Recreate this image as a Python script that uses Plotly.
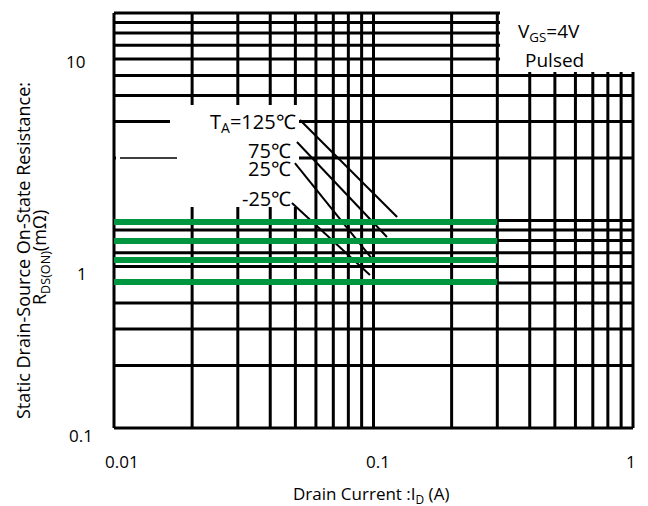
import math
import plotly.graph_objects as go

# ---------------- data ----------------
x_grid = [0.01, 0.02, 0.03, 0.04, 0.05, 0.06, 0.07, 0.08, 0.09,
          0.1, 0.2, 0.3, 0.4, 0.5, 0.6, 0.7, 0.8, 0.9, 1.0]
y_grid = [0.1, 0.2, 0.3, 0.4, 0.5, 0.6, 0.7, 0.8, 0.9,
          1, 2, 3, 4, 5, 6, 7, 8, 9, 10]
x_tick_labels = ["0.01", "0.1", "1"]
y_tick_labels = ["10", "1", "0.1"]

temp_labels = ["T<sub>A</sub>=125℃", "75℃", "25℃", "-25℃"]
rds_on = [0.983, 0.797, 0.645, 0.505]          # mΩ, one level per temperature
id_from = [0.01, 0.01, 0.01, 0.01]              # A
id_to = [0.3, 0.3, 0.3, 0.3]                    # A

# leader lines from the temperature labels to the curves
lead_x0 = [0.0521, 0.0507, 0.0498, 0.0485]
lead_y0 = [3.05, 2.39, 1.89, 1.214]
lead_x1 = [0.1233, 0.1127, 0.0996, 0.0969]
lead_y1 = [1.04, 0.833, 0.645, 0.546]

# ---------------- layout helpers ----------------
W, H = 648, 506
ML, MR, MT, MB = 114, 15, 13, 78
PW, PH = W - ML - MR, H - MT - MB
FONT = "Open Sans"


def px(xp):
    return (xp - ML) / PW


def py(yp):
    return (H - MB - yp) / PH


def lx(v):   # log-x data value -> paper
    return (math.log10(v) + 2) / 2


def ly(v):   # log-y data value -> paper
    return (math.log10(v) + 1) / 2


fig = go.Figure()

# leader lines
for i in range(len(temp_labels)):
    fig.add_trace(go.Scatter(
        x=[lead_x0[i], lead_x1[i]], y=[lead_y0[i], lead_y1[i]],
        mode="lines", line=dict(color="black", width=2),
        hoverinfo="skip", showlegend=False))

# R_DS(ON) curves
for i in range(len(temp_labels)):
    fig.add_trace(go.Scatter(
        x=[id_from[i], id_to[i]], y=[rds_on[i], rds_on[i]],
        mode="lines", line=dict(color="#00963F", width=6),
        name=temp_labels[i], hoverinfo="skip", showlegend=False))

shapes = []
# grid (drawn as shapes so the white boxes can sit on top of it)
for v in x_grid:
    shapes.append(dict(type="line", xref="paper", yref="paper",
                       x0=lx(v), x1=lx(v), y0=0, y1=1,
                       line=dict(color="black", width=3), layer="below"))
for v in y_grid:
    shapes.append(dict(type="line", xref="paper", yref="paper",
                       x0=0, x1=1, y0=ly(v), y1=ly(v),
                       line=dict(color="black", width=3), layer="below"))
shapes += [
    # white area behind the temperature labels
    dict(type="rect", xref="paper", yref="paper",
         x0=px(116), x1=px(299), y0=py(207), y1=py(105),
         fillcolor="white", line=dict(width=0), layer="below"),
    # white box for the condition text
    dict(type="rect", xref="paper", yref="paper",
         x0=px(500), x1=px(636), y0=py(72), y1=py(10),
         fillcolor="white", line=dict(width=0), layer="below"),
    # legend-like stubs at the left
    dict(type="line", xref="paper", yref="paper",
         x0=px(114), x1=px(170), y0=ly(3), y1=ly(3),
         line=dict(color="black", width=3), layer="below"),
    dict(type="line", xref="paper", yref="paper",
         x0=px(120), x1=px(177), y0=ly(2), y1=ly(2),
         line=dict(color="black", width=1.5), layer="below"),
]

annotations = []
# temperature labels
lab_right = [298, 293, 293, 293]
lab_y = [123, 150, 168, 199]
for t, xr, yc in zip(temp_labels, lab_right, lab_y):
    annotations.append(dict(text=t, xref="paper", yref="paper",
                            x=px(xr), y=py(yc), xanchor="right", yanchor="middle",
                            showarrow=False, font=dict(size=20, color="black", family=FONT)))
# condition box text
annotations.append(dict(text="V<sub>GS</sub>=4V", xref="paper", yref="paper",
                        x=px(549), y=py(32), xanchor="center", yanchor="middle",
                        showarrow=False, font=dict(size=19, color="black", family=FONT)))
annotations.append(dict(text="Pulsed", xref="paper", yref="paper",
                        x=px(554), y=py(60), xanchor="center", yanchor="middle",
                        showarrow=False, font=dict(size=19, color="black", family=FONT)))
# x tick labels
for t, xc in zip(x_tick_labels, [122, 378, 631]):
    annotations.append(dict(text=t, xref="paper", yref="paper",
                            x=px(xc), y=py(461), xanchor="center", yanchor="middle",
                            showarrow=False, font=dict(size=17, color="black", family=FONT)))
# y tick labels
for t, xc, yc in zip(y_tick_labels, [75, 82, 81], [61, 273, 436]):
    annotations.append(dict(text=t, xref="paper", yref="paper",
                            x=px(xc), y=py(yc), xanchor="center", yanchor="middle",
                            showarrow=False, font=dict(size=17, color="black", family=FONT)))
# axis titles
annotations.append(dict(text="Drain Current :I<sub>D</sub> (A)", xref="paper", yref="paper",
                        x=px(371), y=py(495), xanchor="center", yanchor="middle",
                        showarrow=False, font=dict(size=17, color="black", family=FONT)))
annotations.append(dict(text="Static Drain-Source On-State Resistance:", xref="paper", yref="paper",
                        x=px(23), y=py(251), xanchor="center", yanchor="middle", textangle=-90,
                        showarrow=False, font=dict(size=18, color="black", family=FONT)))
annotations.append(dict(text="R<sub>DS(ON)</sub>(mΩ)", xref="paper", yref="paper",
                        x=px(40), y=py(258), xanchor="center", yanchor="middle", textangle=-90,
                        showarrow=False, font=dict(size=18, color="black", family=FONT)))

axis_common = dict(type="log", showticklabels=False, ticks="", showgrid=False,
                   zeroline=False, showline=False, fixedrange=True)

fig.update_layout(
    width=W, height=H,
    margin=dict(l=ML, r=MR, t=MT, b=MB, pad=0),
    paper_bgcolor="white", plot_bgcolor="white",
    xaxis=dict(range=[-2, 0], tickvals=x_grid, **axis_common),
    yaxis=dict(range=[-1, 1], tickvals=y_grid, **axis_common),
    shapes=shapes, annotations=annotations,
    font=dict(family=FONT, color="black"),
    showlegend=False,
)

fig.write_html("out.html")
